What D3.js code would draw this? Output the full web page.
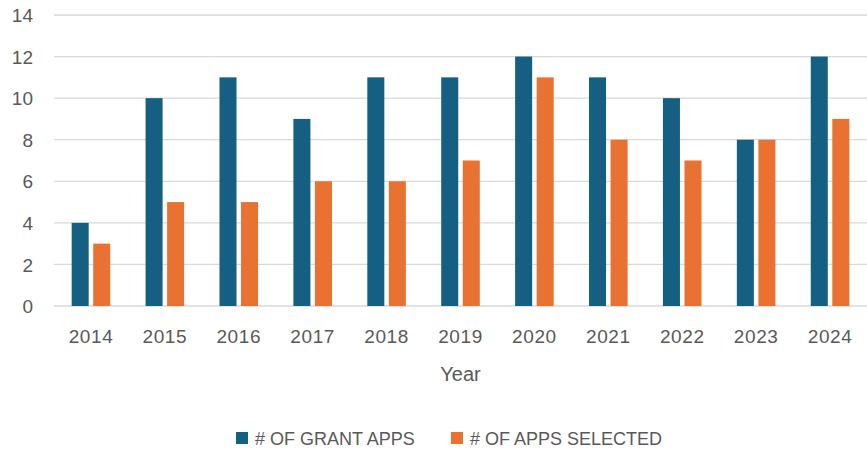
<!DOCTYPE html>
<meta charset="utf-8">
<style>
body { margin: 0; background: #fff; }
text { font-family: "Liberation Sans", Arial, sans-serif; fill: #595959; }
.grid line { stroke: #d9d9d9; stroke-width: 1.3; }
</style>
<body>
<script src="https://cdn.jsdelivr.net/npm/d3@7"></script>
<script>

// values
var years = ["2014", "2015", "2016", "2017", "2018", "2019", "2020", "2021", "2022", "2023", "2024"];
var grantApps = [4, 10, 11, 9, 11, 11, 12, 11, 10, 8, 12];
var appsSelected = [3, 5, 5, 6, 6, 7, 11, 8, 7, 8, 9];
var seriesNames = ["# OF GRANT APPS", "# OF APPS SELECTED"];
var yTicks = [0, 2, 4, 6, 8, 10, 12, 14];

var width = 867, height = 450;
var plotLeft = 54, plotRight = 867, plotTop = 15, plotBottom = 306;

var colours = d3.scaleOrdinal()
    .domain(seriesNames)
    .range(["#156082", "#E97132"]);

var svg = d3.select("body").append("svg")
    .attr("width", width)
    .attr("height", height);

var x0 = d3.scaleBand()
    .domain(years)
    .range([plotLeft, plotRight])
    .padding(0);

var x1 = d3.scaleBand()
    .domain(seriesNames)
    .range([0, x0.bandwidth()])
    .paddingInner(0.21)
    .paddingOuter(0.82);

var y = d3.scaleLinear()
    .domain([0, 14])
    .range([plotBottom, plotTop]);

// gridlines
svg.append("g")
    .attr("class", "grid")
    .selectAll("line")
    .data(yTicks)
    .enter().append("line")
    .attr("x1", plotLeft)
    .attr("x2", plotRight)
    .attr("y1", function(d) { return y(d); })
    .attr("y2", function(d) { return y(d); });

// y axis labels
var yAxis = d3.axisLeft(y).tickValues(yTicks).tickSize(0).tickPadding(0);
var yg = svg.append("g")
    .attr("transform", "translate(33,0)")
    .call(yAxis);
yg.select(".domain").remove();
yg.selectAll("text")
    .style("font-size", "19px")
    .style("font-family", null)
    .attr("fill", null)
    .attr("dy", "0.35em");

// x axis labels
var xAxis = d3.axisBottom(x0).tickSize(0).tickPadding(0);
var xg = svg.append("g")
    .attr("transform", "translate(0,343)")
    .call(xAxis);
xg.select(".domain").remove();
xg.selectAll("text")
    .style("font-size", "19px")
    .style("letter-spacing", "0.6px")
    .attr("fill", null)
    .attr("dy", "0");

// bars
var rows = years.map(function(yr, i) {
  return { year: yr, values: [grantApps[i], appsSelected[i]] };
});

var groups = svg.selectAll(".year")
    .data(rows)
    .enter().append("g")
    .attr("class", "year")
    .attr("transform", function(d) { return "translate(" + x0(d.year) + ",0)"; });

groups.selectAll("rect")
    .data(function(d) {
      return seriesNames.map(function(s, j) { return { name: s, value: d.values[j] }; });
    })
    .enter().append("rect")
    .attr("x", function(d) { return x1(d.name); })
    .attr("width", x1.bandwidth())
    .attr("y", function(d) { return y(d.value); })
    .attr("height", function(d) { return y(0) - y(d.value); })
    .style("fill", function(d) { return colours(d.name); });

// axis title
svg.append("text")
    .attr("x", (plotLeft + plotRight) / 2)
    .attr("y", 381)
    .attr("text-anchor", "middle")
    .style("font-size", "20px")
    .text("Year");

// legend
var legendX = [236, 451];
var legend = svg.selectAll(".legend")
    .data(seriesNames)
    .enter().append("g")
    .attr("class", "legend")
    .attr("transform", function(d, i) { return "translate(" + legendX[i] + ",432)"; });

legend.append("rect")
    .attr("width", 12)
    .attr("height", 12)
    .style("fill", colours);

legend.append("text")
    .attr("x", 19)
    .attr("y", 13)
    .style("font-size", "18px")
    .text(function(d) { return d; });

</script>
</body>
